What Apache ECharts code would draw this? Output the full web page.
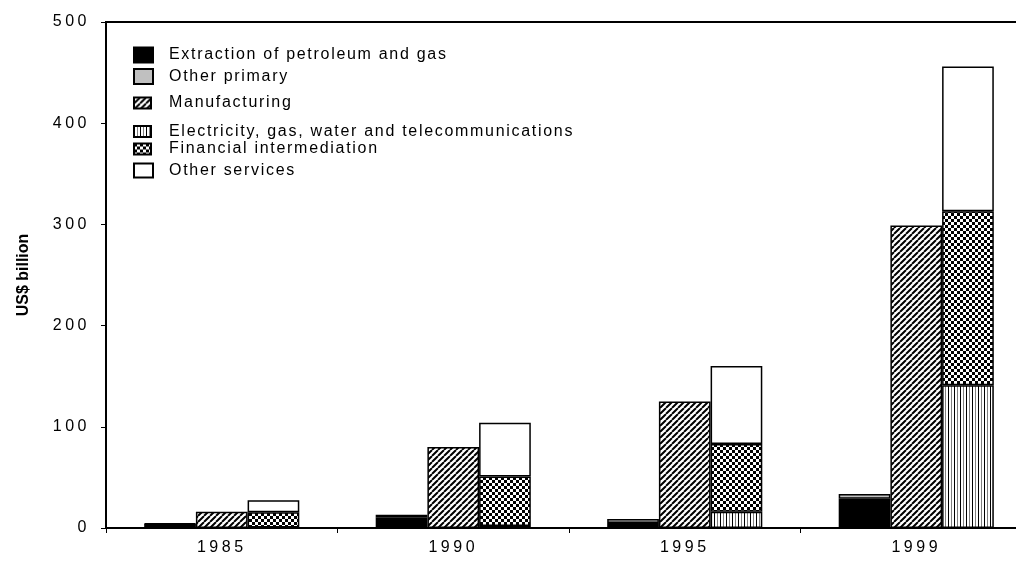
<!DOCTYPE html>
<html>
<head>
<meta charset="utf-8">
<script src="https://cdn.jsdelivr.net/npm/echarts@6/dist/echarts.min.js"></script>
<style>
html,body{margin:0;padding:0;background:#fff;overflow:hidden;width:1016px;height:563px;}
#chart{width:1032px;height:563px;}
</style>
</head>
<body>
<div id="chart"></div>
<script>
// ---- data ----
const years = ['1985', '1990', '1995', '1999'];
const petroleum = [4, 10.5, 5, 29];
const otherPrimary = [0.5, 2.5, 4, 4.5];
const manufacturing = [16, 80, 125, 299];
const electricity = [0.5, 2, 16, 141];
const financial = [15, 49, 67, 172];
const otherServices = [12, 53, 77, 143];
const yTicks = [0, 100, 200, 300, 400, 500];
const seriesNames = [
  'Extraction of petroleum and gas',
  'Other primary',
  'Manufacturing',
  'Electricity, gas, water and telecommunications',
  'Financial intermediation',
  'Other services'
];

// letter-spaced text like the original rendering
(function () {
  const P = CanvasRenderingContext2D.prototype;
  const orig = P.fillText;
  P.fillText = function (t, x, y, m) {
    const s = String(t);
    if ('letterSpacing' in this) {
      this.letterSpacing = /bold/.test(this.font) ? '0px' : (/^\d+$/.test(s) ? '3.5px' : '1.7px');
    }
    return m === undefined ? orig.call(this, t, x, y) : orig.call(this, t, x, y, m);
  };
})();

function tile(w, h, draw) {
  const c = document.createElement('canvas');
  c.width = w; c.height = h;
  const g = c.getContext('2d');
  g.fillStyle = '#fff';
  g.fillRect(0, 0, w, h);
  draw(g, w, h);
  return c;
}
const diagTile = tile(6, 6, (g, w, h) => {
  g.strokeStyle = '#000'; g.lineWidth = 2;
  g.beginPath();
  [-w, 0, w].forEach(dx => { g.moveTo(dx, h); g.lineTo(dx + w, 0); });
  g.stroke();
});
const vertTile = tile(6, 2, (g, w, h) => {
  g.fillStyle = '#000'; g.fillRect(0, 0, 1, h);
  g.fillStyle = '#808080'; g.fillRect(3, 0, 1, h);
});
const checkTile = tile(6, 6, (g) => {
  g.fillStyle = '#000'; g.fillRect(0, 0, 3, 3); g.fillRect(3, 3, 3, 3);
});

const fills = [
  '#000000',
  '#c0c0c0',
  { image: diagTile, repeat: 'repeat' },
  { image: vertTile, repeat: 'repeat' },
  { image: checkTile, repeat: 'repeat' },
  '#ffffff'
];
const values = [petroleum, otherPrimary, manufacturing, electricity, financial, otherServices];
const stacks = ['primary', 'primary', 'manuf', 'services', 'services', 'services'];

const FONT = 'Liberation Sans, Arial, sans-serif';

const legendCenters = [55, 76.5, 103, 131.5, 149, 170.5];
const legendSizes = [[19, 15], [19, 15], [17, 11], [17, 11], [17, 11], [19, 14]];

const legends = seriesNames.map((n, i) => ({
  data: [n],
  left: 133,
  top: legendCenters[i] - 9,
  padding: 0,
  icon: 'rect',
  itemWidth: legendSizes[i][0],
  itemHeight: legendSizes[i][1],
  selectedMode: false,
  textStyle: {
    fontSize: 16, color: '#000', fontFamily: FONT,
    padding: [0, 0, 0, 35 - legendSizes[i][0] - 5],
    lineHeight: 18
  }
}));

const series = seriesNames.map((n, i) => ({
  name: n,
  type: 'bar',
  stack: stacks[i],
  data: values[i],
  barGap: '0%',
  barCategoryGap: '33%',
  itemStyle: { color: fills[i], borderColor: '#000', borderWidth: 1.5 },
  emphasis: { disabled: true },
  animation: false
}));

const chart = echarts.init(document.getElementById('chart'), null, { renderer: 'canvas', width: 1032, height: 563 });
chart.setOption({
  backgroundColor: '#fff',
  animation: false,
  legend: legends,
  grid: {
    left: 106, top: 22, right: 0, bottom: 35,
    show: true, borderColor: '#000', borderWidth: 2, backgroundColor: 'transparent'
  },
  xAxis: {
    type: 'category',
    data: years,
    axisLine: { lineStyle: { color: '#000', width: 2 } },
    axisTick: { show: true, interval: 0, length: 5, lineStyle: { color: '#000', width: 1 } },
    axisLabel: { fontSize: 16, color: '#000', fontFamily: FONT, margin: 12, interval: 0 },
    splitLine: { show: false }
  },
  yAxis: {
    type: 'value',
    min: yTicks[0],
    max: yTicks[yTicks.length - 1],
    interval: yTicks[1] - yTicks[0],
    name: 'US$ billion',
    nameLocation: 'middle',
    nameGap: 74,
    nameRotate: 90,
    nameTextStyle: { fontSize: 16, fontWeight: 'bold', color: '#000', fontFamily: FONT },
    axisLine: { show: true, lineStyle: { color: '#000', width: 2 } },
    axisTick: { show: true, length: 5, lineStyle: { color: '#000', width: 1 } },
    axisLabel: { fontSize: 16, color: '#000', fontFamily: FONT, margin: 16 },
    splitLine: { show: false }
  },
  series: series
});
</script>
</body>
</html>
